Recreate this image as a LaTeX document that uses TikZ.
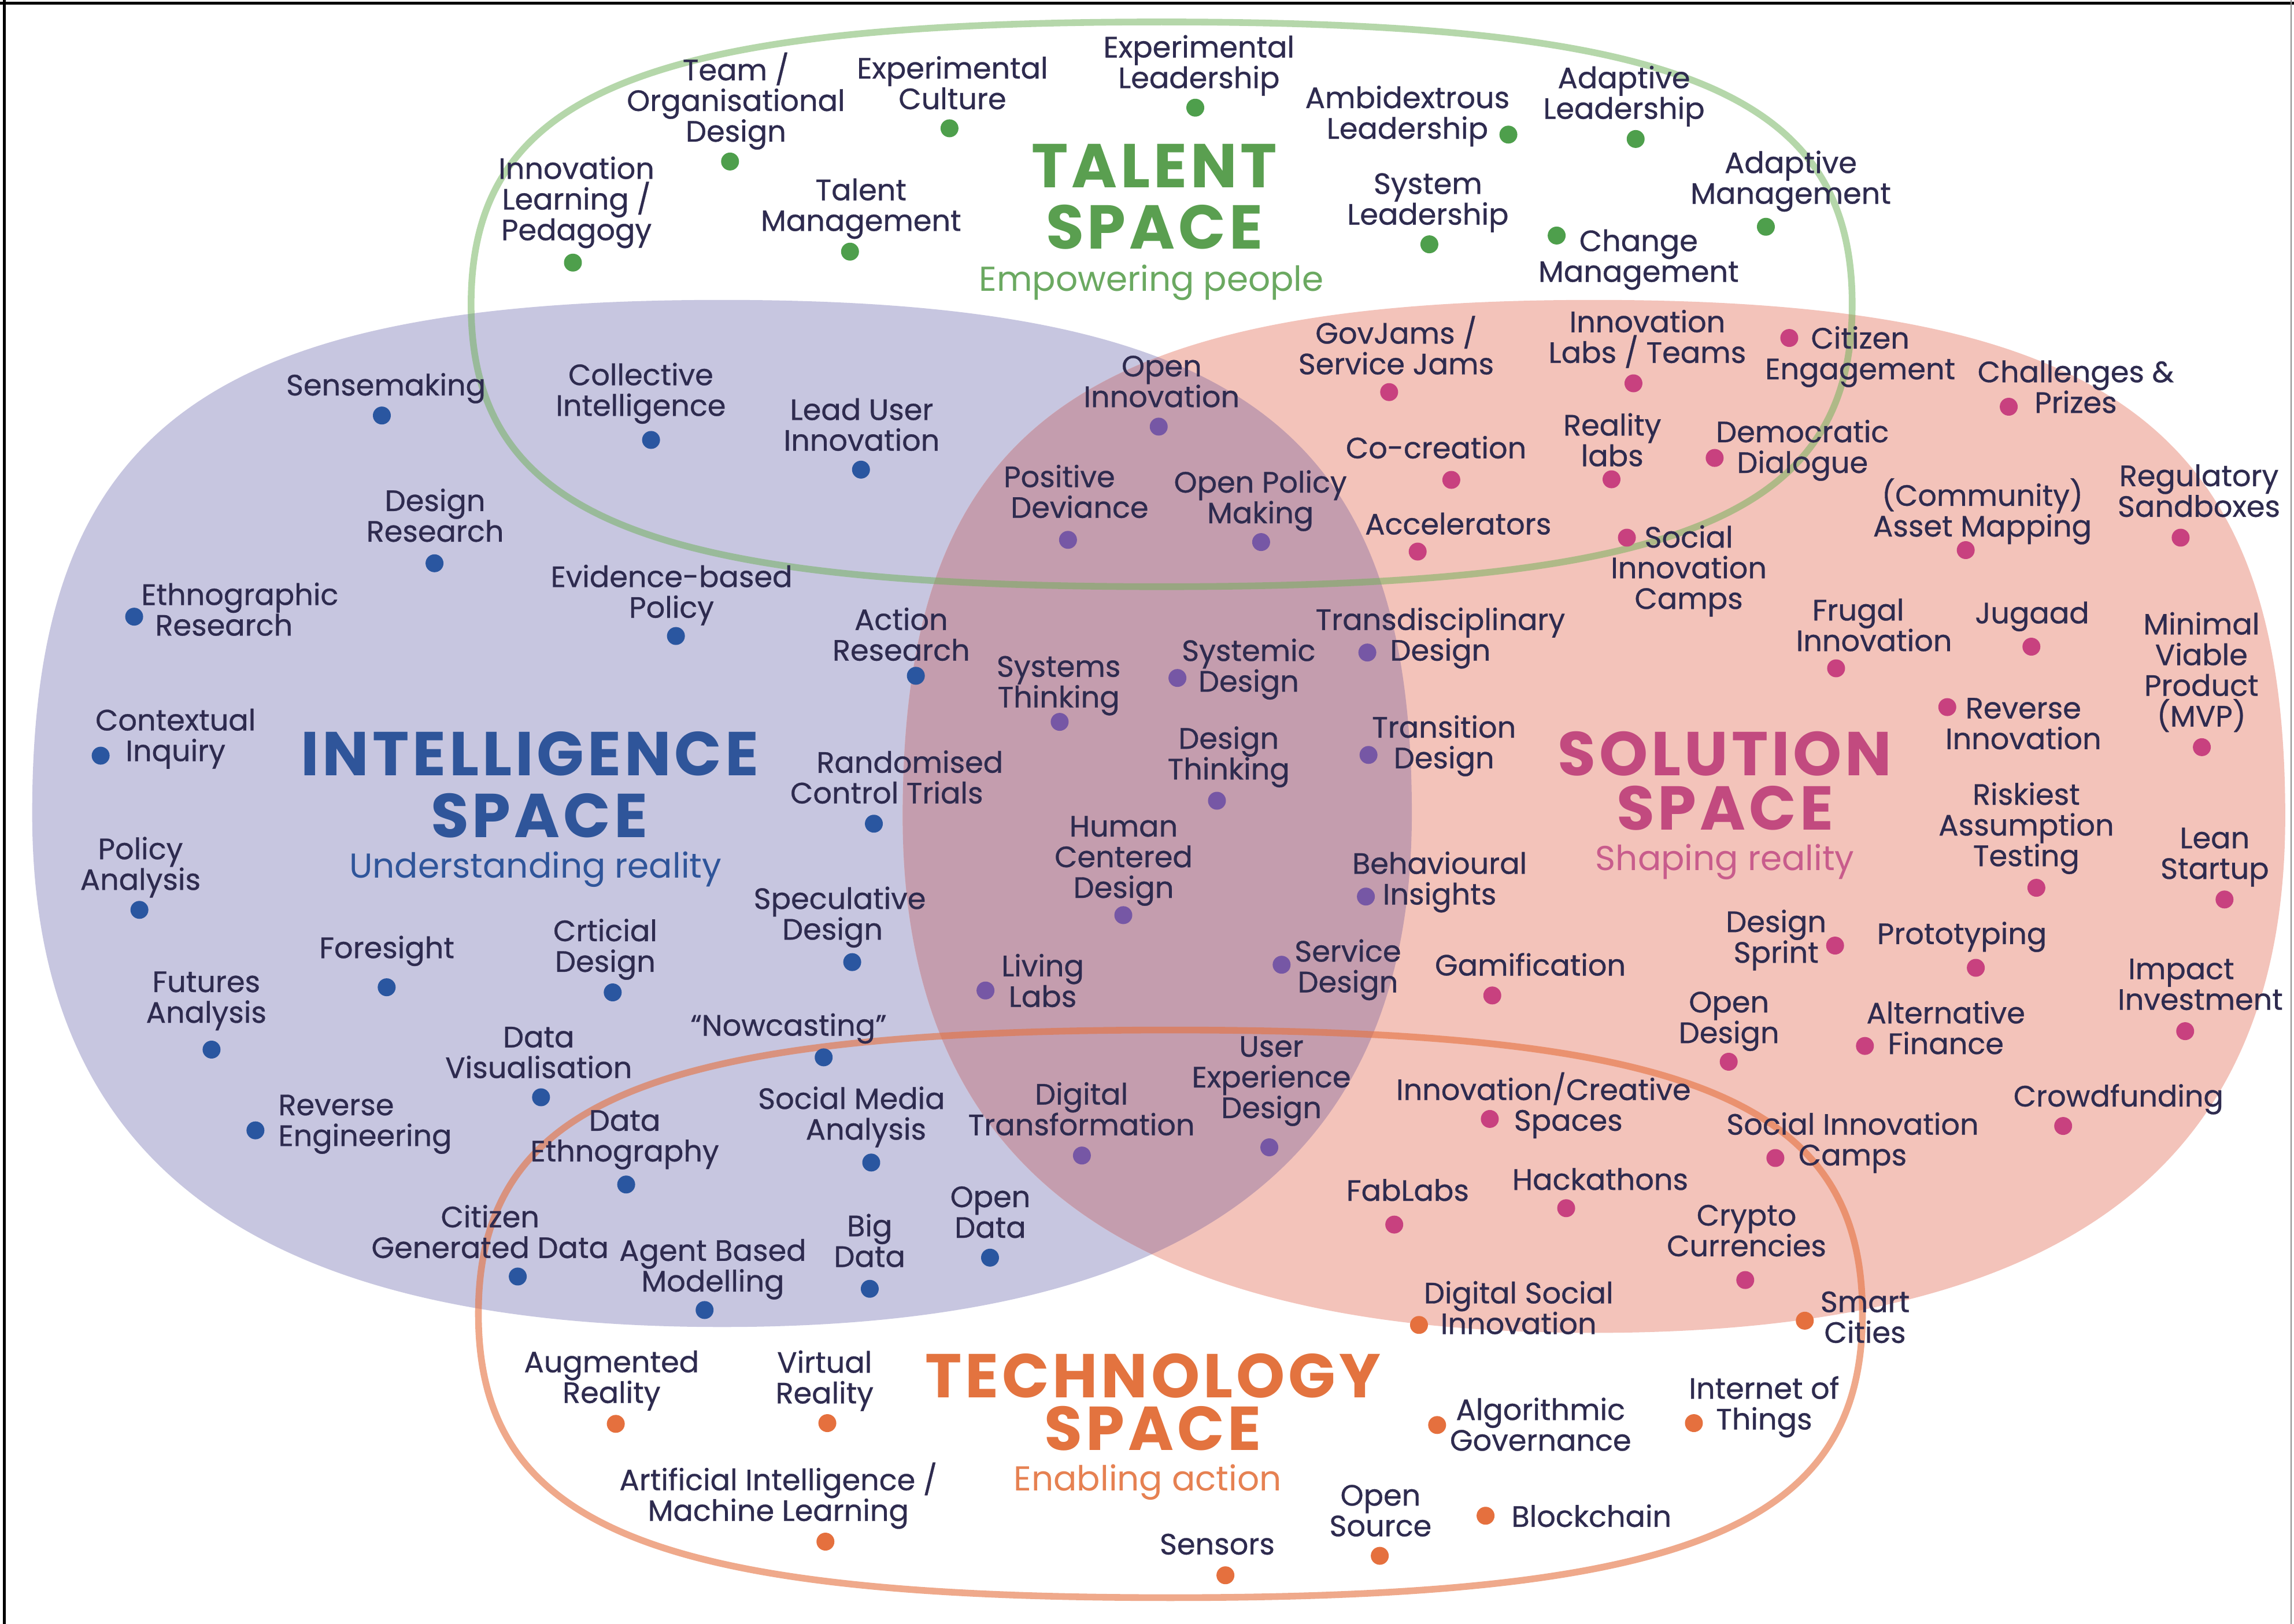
\documentclass[tikz,border=0pt]{standalone}
\usepackage{fontspec}
\setmainfont{Poppins}
\newfontfamily\lblfam{Poppins}[FakeBold=0.6]
\newfontfamily\titlefam{Poppins}[LetterSpace=5.5]
\definecolor{txt}{HTML}{2E2B4F}
\definecolor{bluefill}{HTML}{C7C6E0}
\definecolor{pinkfill}{HTML}{F3C3BA}
\definecolor{mauvefill}{HTML}{C49DAE}
\definecolor{greenline}{HTML}{6DB056}
\definecolor{orangeline}{HTML}{E5703E}
\definecolor{gdot}{HTML}{4E9F4C}
\definecolor{bdot}{HTML}{2A56A0}
\definecolor{pdot}{HTML}{7657A5}
\definecolor{mdot}{HTML}{C8417F}
\definecolor{odot}{HTML}{E5703E}
\definecolor{gtitle}{HTML}{5A9F50}
\definecolor{btitle}{HTML}{2F559A}
\definecolor{mtitle}{HTML}{C24A7F}
\definecolor{otitle}{HTML}{E3733F}
\newcommand\ls{\rule{0pt}{12.5pt}}
\newcommand\ts{\rule{0pt}{23pt}}
\newcommand\lblfont{\lblfam\fontsize{14.5}{15.1}\selectfont}
\begin{document}
\begin{tikzpicture}[x=0.02531cm,y=-0.02531cm,
  lbl/.style={font=\lblfont,text=txt,align=center,anchor=north,inner sep=0pt,yshift=12.5pt},
  dotn/.style={circle,inner sep=0pt,minimum size=0.31cm,draw=none},
  gd/.style={dotn,fill=gdot}, bd/.style={dotn,fill=bdot}, pd/.style={dotn,fill=pdot},
  md/.style={dotn,fill=mdot}, od/.style={dotn,fill=odot},
  spacetitle/.style={align=center,anchor=north,inner sep=0pt,yshift=23pt},
  spacesub/.style={font=\fontsize{17}{17}\selectfont,anchor=base,inner sep=0pt},
  outline/.style={line width=3.3pt,draw opacity=0.6}]
\useasboundingbox (0,0) rectangle (1568,1110);
\fill[white] (0,0) rectangle (1568,1110);
% intelligence (blue)
\fill[bluefill] (965,556) .. controls (965,292.75) and (847.1,205) .. (493.5,205)
  .. controls (139.9,205) and (22,292.75) .. (22,556)
  .. controls (22,794.7) and (172.9,907) .. (493.5,907)
  .. controls (814.1,907) and (965,794.7) .. (965,556) -- cycle;
% solution (pink)
\fill[pinkfill] (1562,558) .. controls (1562,293.25) and (1443.9,205) .. (1089.5,205)
  .. controls (735.1,205) and (617,293.25) .. (617,558)
  .. controls (617,798) and (768.2,911) .. (1089.5,911)
  .. controls (1410.8,911) and (1562,798) .. (1562,558) -- cycle;
% overlap
\begin{scope}
\clip (965,556) .. controls (965,292.75) and (847.1,205) .. (493.5,205)
  .. controls (139.9,205) and (22,292.75) .. (22,556)
  .. controls (22,794.7) and (172.9,907) .. (493.5,907)
  .. controls (814.1,907) and (965,794.7) .. (965,556) -- cycle;
\fill[mauvefill] (1562,558) .. controls (1562,293.25) and (1443.9,205) .. (1089.5,205)
  .. controls (735.1,205) and (617,293.25) .. (617,558)
  .. controls (617,798) and (768.2,911) .. (1089.5,911)
  .. controls (1410.8,911) and (1562,798) .. (1562,558) -- cycle;
\end{scope}
% talent outline (green)
\draw[outline,greenline,draw opacity=0.5] (1266,208) .. controls (1266,63.25) and (1148,15) .. (794,15)
  .. controls (440,15) and (322,63.25) .. (322,208)
  .. controls (322,352.75) and (440,401) .. (794,401)
  .. controls (1148,401) and (1266,352.75) .. (1266,208) -- cycle;
% technology outline (orange)
\draw[outline,orangeline] (1273,898) .. controls (1273,752.5) and (1154.75,704) .. (800,704)
  .. controls (445.25,704) and (327,752.5) .. (327,898)
  .. controls (327,1043.5) and (445.25,1092) .. (800,1092)
  .. controls (1154.75,1092) and (1273,1043.5) .. (1273,898) -- cycle;
% frame
\draw[line width=1.4pt] (0,2) -- (1568,2);
\draw[line width=1.4pt] (3,0) -- (3,1110);
\draw[black!45,line width=0.6pt] (1566,0) -- (1566,1110);

% titles
\node[spacetitle,text=gtitle,font=\titlefam\bfseries\fontsize{30.5}{30.27}\selectfont] (talent) at (789,128) {\ts TALENT\\SPACE};
\node[spacesub,text=gtitle!90!white] (talentsub) at (787,199) {Empowering people};
\node[spacetitle,text=btitle,font=\titlefam\bfseries\fontsize{30.5}{30.27}\selectfont] (intel) at (362,530) {\ts INTELLIGENCE\\\hspace*{0.33cm}SPACE};
\node[spacesub,text=btitle] (intelsub) at (366,600) {Understanding reality};
\node[spacetitle,text=mtitle,font=\titlefam\bfseries\fontsize{30.5}{26.66}\selectfont] (sol) at (1179,530) {\ts SOLUTION\\SPACE};
\node[spacesub,text=mtitle!90!white] (solsub) at (1179,595) {Shaping reality};
\node[spacetitle,text=otitle,font=\titlefam\bfseries\fontsize{30.5}{25.94}\selectfont] (tech) at (788,955) {\ts TECHNOLOGY\\SPACE};
\node[spacesub,text=otitle!90!white] (techsub) at (784.5,1019) {Enabling action};

% talent items
\node[lbl] (t1) at (503,53) {\ls Team /\\Organisational\\Design};
\node[gd] (t1d) at (499,110.4) {};
\node[lbl] (t2) at (651,53.4) {\ls Experimental\\Culture};
\node[gd] (t2d) at (649,87.7) {};
\node[lbl] (t3) at (819.5,39) {\ls Experimental\\Leadership};
\node[gd] (t3d) at (817,73.6) {};
\node[lbl] (t4) at (962,73.6) {\ls Ambidextrous\\Leadership};
\node[gd] (t4d) at (1031,92) {};
\node[lbl] (t5) at (1110,60) {\ls Adaptive\\Leadership};
\node[gd] (t5d) at (1118,95) {};
\node[lbl] (t6) at (394,122) {\ls Innovation\\Learning /\\Pedagogy};
\node[gd] (t6d) at (391.6,179.5) {};
\node[lbl] (t7) at (588.5,136.6) {\ls Talent\\Management};
\node[gd] (t7d) at (581,172) {};
\node[lbl] (t8) at (976,132.3) {\ls System\\Leadership};
\node[gd] (t8d) at (977,167) {};
\node[lbl] (t9) at (1224,118) {\ls Adaptive\\Management};
\node[gd] (t9d) at (1207,155) {};
\node[lbl] (t10) at (1120,171.4) {\ls Change\\Management};
\node[gd] (t10d) at (1064,161) {};

% intelligence items
\node[lbl] (i1) at (263.8,270) {\ls Sensemaking};
\node[bd] (i1d) at (261,284) {};
\node[lbl] (i2) at (438,263) {\ls Collective\\Intelligence};
\node[bd] (i2d) at (445,300.7) {};
\node[lbl] (i3) at (589,286.8) {\ls Lead User\\Innovation};
\node[bd] (i3d) at (588.5,321) {};
\node[lbl] (i4) at (297.4,349) {\ls Design\\Research};
\node[bd] (i4d) at (297,385) {};
\node[lbl] (i5) at (159,413.2) {\ls \hspace*{0.25cm}Ethnographic\\Research\hspace*{0.3cm}};
\node[bd] (i5d) at (91.7,421.5) {};
\node[lbl] (i6) at (459,401) {\ls Evidence-based\\Policy};
\node[bd] (i6d) at (462,434.7) {};
\node[lbl] (i7) at (616,430.3) {\ls Action\\Research};
\node[bd] (i7d) at (626,461.9) {};
\node[lbl] (i8) at (120,499) {\ls Contextual\\Inquiry};
\node[bd] (i8d) at (68.8,516.5) {};
\node[lbl] (i9) at (614,527.9) {\ls \hspace*{0.4cm}Randomised\\Control Trials\hspace*{0.4cm}};
\node[bd] (i9d) at (597.3,563) {};
\node[lbl] (i10) at (96,587) {\ls Policy\\Analysis};
\node[bd] (i10d) at (95.3,621.9) {};
\node[lbl] (i11) at (574,621) {\ls Speculative\\Design\hspace*{0.25cm}};
\node[bd] (i11d) at (582.5,657.6) {};
\node[lbl] (i12) at (264.4,654.6) {\ls Foresight};
\node[bd] (i12d) at (264.3,674.8) {};
\node[lbl] (i13) at (413.7,643) {\ls Crticial\\Design};
\node[bd] (i13d) at (418.8,678.3) {};
\node[lbl] (i14) at (141,677.8) {\ls Futures\\Analysis};
\node[bd] (i14d) at (144.6,717.4) {};
\node[lbl] (i15) at (368.2,715.6) {\ls Data\\Visualisation};
\node[bd] (i15d) at (369.8,750) {};
\node[lbl] (i16) at (539,707.6) {\ls “Nowcasting”};
\node[bd] (i16d) at (563,722.7) {};
\node[lbl,align=left,anchor=north west] (i17) at (190,762) {\ls Reverse\\Engineering};
\node[bd] (i17d) at (174.6,772.6) {};
\node[lbl] (i18) at (427,772.6) {\ls Data\\Ethnography};
\node[bd] (i18d) at (428,809.6) {};
\node[lbl] (i19) at (586,757.7) {\ls Social Media\hspace*{0.2cm}\\\hspace*{0.3cm}Analysis};
\node[bd] (i19d) at (595.5,794.6) {};
\node[lbl] (i20) at (335,838.6) {\ls Citizen\\Generated Data};
\node[bd] (i20d) at (353.9,872.5) {};
\node[lbl] (i21) at (487.2,861.5) {\ls Agent Based\\Modelling};
\node[bd] (i21d) at (481.6,895.4) {};
\node[lbl] (i22) at (594.4,844.7) {\ls Big\\Data};
\node[bd] (i22d) at (594.5,880.9) {};
\node[lbl] (i23) at (676.9,824.8) {\ls Open\\Data};
\node[bd] (i23d) at (676.7,859.6) {};

% overlap items
\node[lbl] (o1) at (794,257) {\ls Open\\Innovation};
\node[pd] (o1d) at (792,291.6) {};
\node[lbl] (o2) at (731,332.7) {\ls Positive\hspace*{0.35cm}\\\hspace*{0.35cm}Deviance};
\node[pd] (o2d) at (730,369) {};
\node[lbl] (o3) at (861.5,336.4) {\ls Open Policy\\Making};
\node[pd] (o3d) at (862,370.5) {};
\node[lbl] (o4) at (723.6,462.3) {\ls Systems\\Thinking};
\node[pd] (o4d) at (724.3,493.4) {};
\node[lbl] (o5) at (853.5,451.5) {\ls Systemic\\Design};
\node[pd] (o5d) at (804.8,463.4) {};
\node[lbl] (o6) at (984.5,430.3) {\ls Transdisciplinary\\Design};
\node[pd] (o6d) at (934.6,446) {};
\node[lbl] (o7) at (839.8,511.5) {\ls Design\\Thinking};
\node[pd] (o7d) at (831.8,547.3) {};
\node[lbl] (o8) at (987,503.9) {\ls Transition\\Design};
\node[pd] (o8d) at (935.4,516) {};
\node[lbl] (o9) at (768,571.5) {\ls Human\\Centered\\Design};
\node[pd] (o9d) at (767.8,625.5) {};
\node[lbl] (o10) at (984,597) {\ls Behavioural\\Insights};
\node[pd] (o10d) at (933.6,612.8) {};
\node[lbl] (o11) at (712.7,667) {\ls Living\\Labs};
\node[pd] (o11d) at (673.6,677) {};
\node[lbl] (o12) at (921.3,657) {\ls Service\\Design};
\node[pd] (o12d) at (876,659.4) {};
\node[lbl] (o13) at (739.2,754.7) {\ls Digital\\Transformation};
\node[pd] (o13d) at (739.5,789.8) {};
\node[lbl] (o14) at (869,722) {\ls User\\Experience\\Design};
\node[pd] (o14d) at (867.6,784.2) {};

% solution items
\node[lbl] (s1) at (954.3,233) {\ls GovJams /\\Service Jams};
\node[md] (s1d) at (949.5,268) {};
\node[lbl] (s2) at (1126,226.8) {\ls Innovation\\Labs / Teams};
\node[md] (s2d) at (1116.5,262) {};
\node[lbl] (s3) at (1271.5,238) {\ls Citizen\\Engagement};
\node[md] (s3d) at (1223,231) {};
\node[lbl] (s4) at (1418.8,261) {\ls Challenges \&\\Prizes};
\node[md] (s4d) at (1373,278) {};
\node[lbl] (s5) at (981.6,313) {\ls Co-creation};
\node[md] (s5d) at (992,328) {};
\node[lbl] (s6) at (1102,297.4) {\ls Reality\\labs};
\node[md] (s6d) at (1101.5,327.6) {};
\node[lbl] (s7) at (1232,302) {\ls Democratic\\Dialogue};
\node[md] (s7d) at (1172,313) {};
\node[lbl] (s8) at (996.7,365) {\ls Accelerators};
\node[md] (s8d) at (969,377) {};
\node[lbl] (s9) at (1154.3,374) {\ls Social\\Innovation\\Camps};
\node[md] (s9d) at (1112,367.5) {};
\node[lbl] (s10) at (1355,344) {\ls (Community)\\Asset Mapping};
\node[md] (s10d) at (1343.6,376) {};
\node[lbl] (s11) at (1503,332) {\ls Regulatory\\Sandboxes};
\node[md] (s11d) at (1490.5,367.5) {};
\node[lbl] (s12) at (1277,423.8) {\ls Frugal\hspace*{0.35cm}\\\hspace*{0.2cm}Innovation};
\node[md] (s12d) at (1255,456.8) {};
\node[lbl] (s13) at (1389,425.8) {\ls Jugaad};
\node[md] (s13d) at (1388.5,442) {};
\node[lbl] (s14) at (1504.7,433.4) {\ls Minimal\\Viable\\Product\\(MVP)};
\node[md] (s14d) at (1505,510.7) {};
\node[lbl] (s15) at (1383,490.8) {\ls Reverse\\Innovation};
\node[md] (s15d) at (1331,483.3) {};
\node[lbl] (s16) at (1385,549.8) {\ls Riskiest\\Assumption\\Testing};
\node[md] (s16d) at (1391.9,606.8) {};
\node[lbl] (s17) at (1513.8,579.5) {\ls Lean\\Startup};
\node[md] (s17d) at (1520.5,614.8) {};
\node[lbl] (s18) at (1214,636.8) {\ls Design\\Sprint};
\node[md] (s18d) at (1254.3,646.3) {};
\node[lbl] (s19) at (1341,645) {\ls Prototyping};
\node[md] (s19d) at (1350.5,661.5) {};
\node[lbl] (s20) at (1046,666.5) {\ls Gamification};
\node[md] (s20d) at (1020,680.4) {};
\node[lbl] (s21) at (1500,669) {\ls Impact\hspace*{0.46cm}\\\hspace*{0.2cm}Investment};
\node[md] (s21d) at (1493.6,704.8) {};
\node[lbl] (s22) at (1181.8,691.7) {\ls Open\\Design};
\node[md] (s22d) at (1181.6,725.7) {};
\node[lbl] (s23) at (1330,699.2) {\ls Alternative\\Finance};
\node[md] (s23d) at (1274.7,714.9) {};
\node[lbl] (s24) at (1055,750) {\ls Innovation/Creative\\\hspace*{0.86cm}Spaces};
\node[md] (s24d) at (1018.3,764.8) {};
\node[lbl] (s25) at (1448,756) {\ls Crowdfunding};
\node[md] (s25d) at (1410.2,769.6) {};
\node[lbl] (s26) at (1266.3,775.3) {\ls Social Innovation\\Camps};
\node[md] (s26d) at (1213.5,791.5) {};
\node[lbl] (s27) at (962.2,820.5) {\ls FabLabs};
\node[md] (s27d) at (953,837) {};
\node[lbl] (s28) at (1093.8,813) {\ls Hackathons};
\node[md] (s28d) at (1070.5,825.8) {};
\node[lbl] (s29) at (1193.8,837.4) {\ls Crypto\\Currencies};
\node[md] (s29d) at (1192.9,874.9) {};

% technology items
\node[lbl] (e1) at (1038,890.6) {\ls Digital Social\\Innovation};
\node[od] (e1d) at (969.9,905.6) {};
\node[lbl] (e2) at (1274.8,896.6) {\ls Smart\\Cities};
\node[od] (e2d) at (1233.6,902.7) {};
\node[lbl] (e3) at (418,937.7) {\ls Augmented\\Reality};
\node[od] (e3d) at (420.9,973.2) {};
\node[lbl] (e4) at (563.6,938) {\ls Virtual\\Reality};
\node[od] (e4d) at (565.5,972.7) {};
\node[lbl] (e5) at (1053,970.3) {\ls Algorithmic\\Governance};
\node[od] (e5d) at (982.3,974) {};
\node[lbl] (e6) at (1205.8,955.8) {\ls Internet of\\Things};
\node[od] (e6d) at (1157.8,972.7) {};
\node[lbl] (e7) at (532,1016.7) {\ls Artificial Intelligence /\\Machine Learning};
\node[od] (e7d) at (564.2,1053.7) {};
\node[lbl] (e8) at (943.6,1028.8) {\ls Open\\Source};
\node[od] (e8d) at (943.1,1063.4) {};
\node[lbl] (e9) at (1087.8,1043.3) {\ls Blockchain};
\node[od] (e9d) at (1015.4,1036) {};
\node[lbl] (e10) at (832,1062.2) {\ls Sensors};
\node[od] (e10d) at (837.6,1076.7) {};
\end{tikzpicture}
\end{document}
